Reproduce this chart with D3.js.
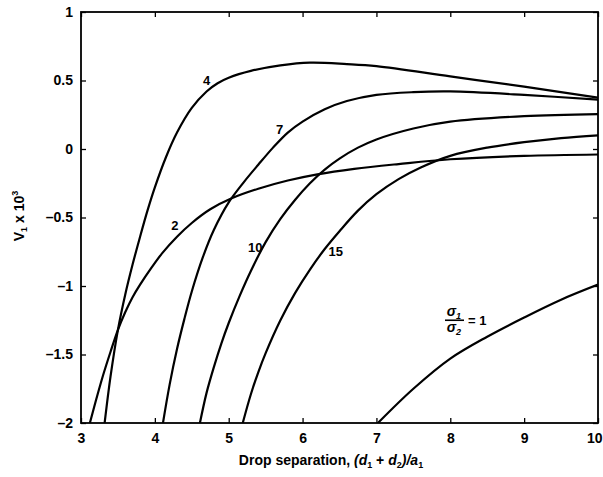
<!DOCTYPE html>
<html lang="en">
<head>
<meta charset="UTF-8" />
<script src="https://d3js.org/d3.v7.min.js"></script>
<style>
  body { margin: 0; background: #fff; }
  text { font-family: "Liberation Sans", Arial, sans-serif; font-weight: bold; fill: #000; }
</style>
</head>
<body>
<svg id="chart" width="603" height="477"></svg>
<script>
// curve data (x = drop separation, y = V1 x 10^3)
const curve2X = [3.12, 3.2, 3.3, 3.4, 3.5, 3.6, 3.7, 3.8, 3.95, 4.1, 4.3, 4.5, 4.75, 5.04, 5.4, 5.8, 6.2, 6.7, 7.3, 8.0, 9.0, 10];
const curve2Y = [-2, -1.84, -1.65, -1.48, -1.32, -1.19, -1.08, -0.99, -0.87, -0.76, -0.64, -0.54, -0.44, -0.36, -0.29, -0.23, -0.185, -0.145, -0.11, -0.075, -0.05, -0.04];

const curve4X = [3.32, 3.4, 3.5, 3.6, 3.7, 3.8, 3.9, 4.0, 4.15, 4.3, 4.5, 4.7, 4.85, 5.0, 5.3, 5.7, 6.1, 6.6, 7.0, 8.0, 9.0, 10];
const curve4Y = [-2, -1.66, -1.32, -1.06, -0.84, -0.64, -0.45, -0.28, -0.06, 0.12, 0.30, 0.42, 0.48, 0.52, 0.57, 0.61, 0.63, 0.62, 0.605, 0.53, 0.455, 0.375];

const curve7X = [4.11, 4.2, 4.3, 4.4, 4.5, 4.65, 4.8, 5.0, 5.2, 5.4, 5.6, 5.8, 6.0, 6.3, 6.6, 7.0, 7.5, 8.0, 9.0, 10];
const curve7Y = [-2, -1.72, -1.46, -1.24, -1.04, -0.79, -0.59, -0.39, -0.245, -0.115, 0.01, 0.12, 0.2, 0.29, 0.35, 0.395, 0.415, 0.42, 0.395, 0.36];

const curve10X = [4.61, 4.7, 4.8, 4.9, 5.0, 5.15, 5.3, 5.5, 5.7, 5.9, 6.1, 6.3, 6.5, 6.75, 7.0, 7.5, 8.0, 9.0, 10];
const curve10Y = [-2, -1.78, -1.59, -1.42, -1.27, -1.07, -0.89, -0.68, -0.51, -0.37, -0.25, -0.15, -0.07, 0.01, 0.07, 0.15, 0.2, 0.24, 0.255];

const curve15X = [5.19, 5.3, 5.4, 5.5, 5.7, 5.9, 6.1, 6.3, 6.5, 6.75, 7.0, 7.3, 7.6, 8.0, 8.5, 9.0, 9.5, 10];
const curve15Y = [-2, -1.79, -1.63, -1.49, -1.25, -1.05, -0.88, -0.73, -0.6, -0.45, -0.33, -0.22, -0.135, -0.05, 0.01, 0.05, 0.08, 0.10];

const curve1X = [7.02, 7.5, 8.0, 8.5, 9.0, 9.5, 10];
const curve1Y = [-2, -1.75, -1.53, -1.37, -1.23, -1.10, -0.99];

const curveNames = ['2', '4', '7', '10', '15', '1'];
const xTicks = [3, 4, 5, 6, 7, 8, 9, 10];
const yTicks = [-2, -1.5, -1, -0.5, 0, 0.5, 1];

// where the curve labels sit, in data units
const labelAt = {
  '4': [4.70, 0.50], '7': [5.69, 0.14], '2': [4.27, -0.56],
  '10': [5.36, -0.72], '15': [6.45, -0.75]
};

const svg = d3.select('#chart');
const width = +svg.attr('width');
const height = +svg.attr('height');
const margin = { top: 12, right: 5, bottom: 54, left: 81 };
const innerWidth = width - margin.left - margin.right;
const innerHeight = height - margin.top - margin.bottom;

const xScale = d3.scaleLinear().domain([3, 10]).range([0, innerWidth]);
const yScale = d3.scaleLinear().domain([-2, 1]).range([innerHeight, 0]);

const g = svg.append('g').attr('transform', `translate(${margin.left},${margin.top})`);

const fmt = d => (d < 0 ? '\u2013' : '') + Math.abs(d);

// axes with inward ticks (left / bottom labelled, top / right plain)
const xAxisG = g.append('g').attr('transform', `translate(0,${innerHeight})`)
  .call(d3.axisBottom(xScale).tickValues(xTicks).tickFormat(d => d).tickSize(-5).tickPadding(10));
const yAxisG = g.append('g')
  .call(d3.axisLeft(yScale).tickValues(yTicks).tickFormat(fmt).tickSize(-5).tickPadding(8));
const topG = g.append('g').call(d3.axisTop(xScale).tickValues(xTicks).tickSize(-5));
const rightG = g.append('g').attr('transform', `translate(${innerWidth},0)`)
  .call(d3.axisRight(yScale).tickValues(yTicks).tickSize(-5));
topG.selectAll('text').remove();
rightG.selectAll('text').remove();

g.selectAll('.domain').remove();
g.selectAll('.tick line').attr('stroke', '#000').attr('stroke-width', 1.3);
g.selectAll('.tick text').style('font-size', '14px').style('font-family', '"Liberation Sans", Arial, sans-serif')
  .style('font-weight', 'bold').attr('fill', '#000');
xAxisG.selectAll('.tick text').attr('dy', '0.71em');
// last label sits against the page edge
xAxisG.selectAll('.tick text').filter(d => d === 10)
  .attr('text-anchor', 'end').attr('x', 4);

g.append('rect')
  .attr('width', innerWidth).attr('height', innerHeight)
  .attr('fill', 'none').attr('stroke', '#000').attr('stroke-width', 1.8);

// curves
const series = [
  [curve2X, curve2Y], [curve4X, curve4Y], [curve7X, curve7Y],
  [curve10X, curve10Y], [curve15X, curve15Y], [curve1X, curve1Y]
].map((s, i) => ({ name: curveNames[i], pts: s[0].map((x, j) => [x, s[1][j]]) }));

svg.append('defs').append('clipPath').attr('id', 'clip')
  .append('rect').attr('width', innerWidth).attr('height', innerHeight);

const line = d3.line()
  .x(d => xScale(d[0]))
  .y(d => yScale(d[1]))
  .curve(d3.curveCatmullRom.alpha(0.5));

g.append('g').attr('clip-path', 'url(#clip)')
  .selectAll('path').data(series).enter().append('path')
  .attr('d', d => line(d.pts))
  .attr('fill', 'none')
  .attr('stroke', '#000')
  .attr('stroke-width', 2.2);

// curve labels
Object.entries(labelAt).forEach(([name, p]) => {
  g.append('text')
    .attr('x', xScale(p[0])).attr('y', yScale(p[1]))
    .attr('text-anchor', 'middle').attr('dy', '0.35em')
    .style('font-size', '13px')
    .text(name);
});

// sigma1 / sigma2 = 1 label
const sx = xScale(8.05), sy = yScale(-1.25);
const sig = g.append('g').attr('transform', `translate(${sx},${sy})`);
sig.append('text').attr('x', 0).attr('y', -4).attr('text-anchor', 'middle')
  .style('font-size', '14px').style('font-style', 'italic')
  .html('\u03C3<tspan font-size="9" dy="3">1</tspan>');
sig.append('line').attr('x1', -9).attr('x2', 10).attr('y1', 0).attr('y2', 0)
  .attr('stroke', '#000').attr('stroke-width', 1.6);
sig.append('text').attr('x', 0).attr('y', 12).attr('text-anchor', 'middle')
  .style('font-size', '14px').style('font-style', 'italic')
  .html('\u03C3<tspan font-size="9" dy="3">2</tspan>');
sig.append('text').attr('x', 14).attr('y', 5)
  .style('font-size', '13px')
  .text('= 1');

// axis titles
svg.append('text')
  .attr('x', margin.left + 250).attr('y', 465)
  .attr('text-anchor', 'middle')
  .style('font-size', '14px')
  .html('Drop separation, <tspan font-style="italic">(d</tspan><tspan font-size="9" dy="3">1</tspan>' +
        '<tspan dy="-3"> + </tspan><tspan font-style="italic">d</tspan><tspan font-size="9" dy="3">2</tspan>' +
        '<tspan dy="-3" font-style="italic">)/a</tspan><tspan font-size="9" dy="3">1</tspan>');

svg.append('text')
  .attr('transform', 'translate(24,216) rotate(-90)')
  .attr('text-anchor', 'middle')
  .style('font-size', '14px')
  .html('V<tspan font-size="9" dy="3">1</tspan><tspan dy="-3"> x 10</tspan><tspan font-size="9" dy="-6">3</tspan>');
</script>
</body>
</html>
